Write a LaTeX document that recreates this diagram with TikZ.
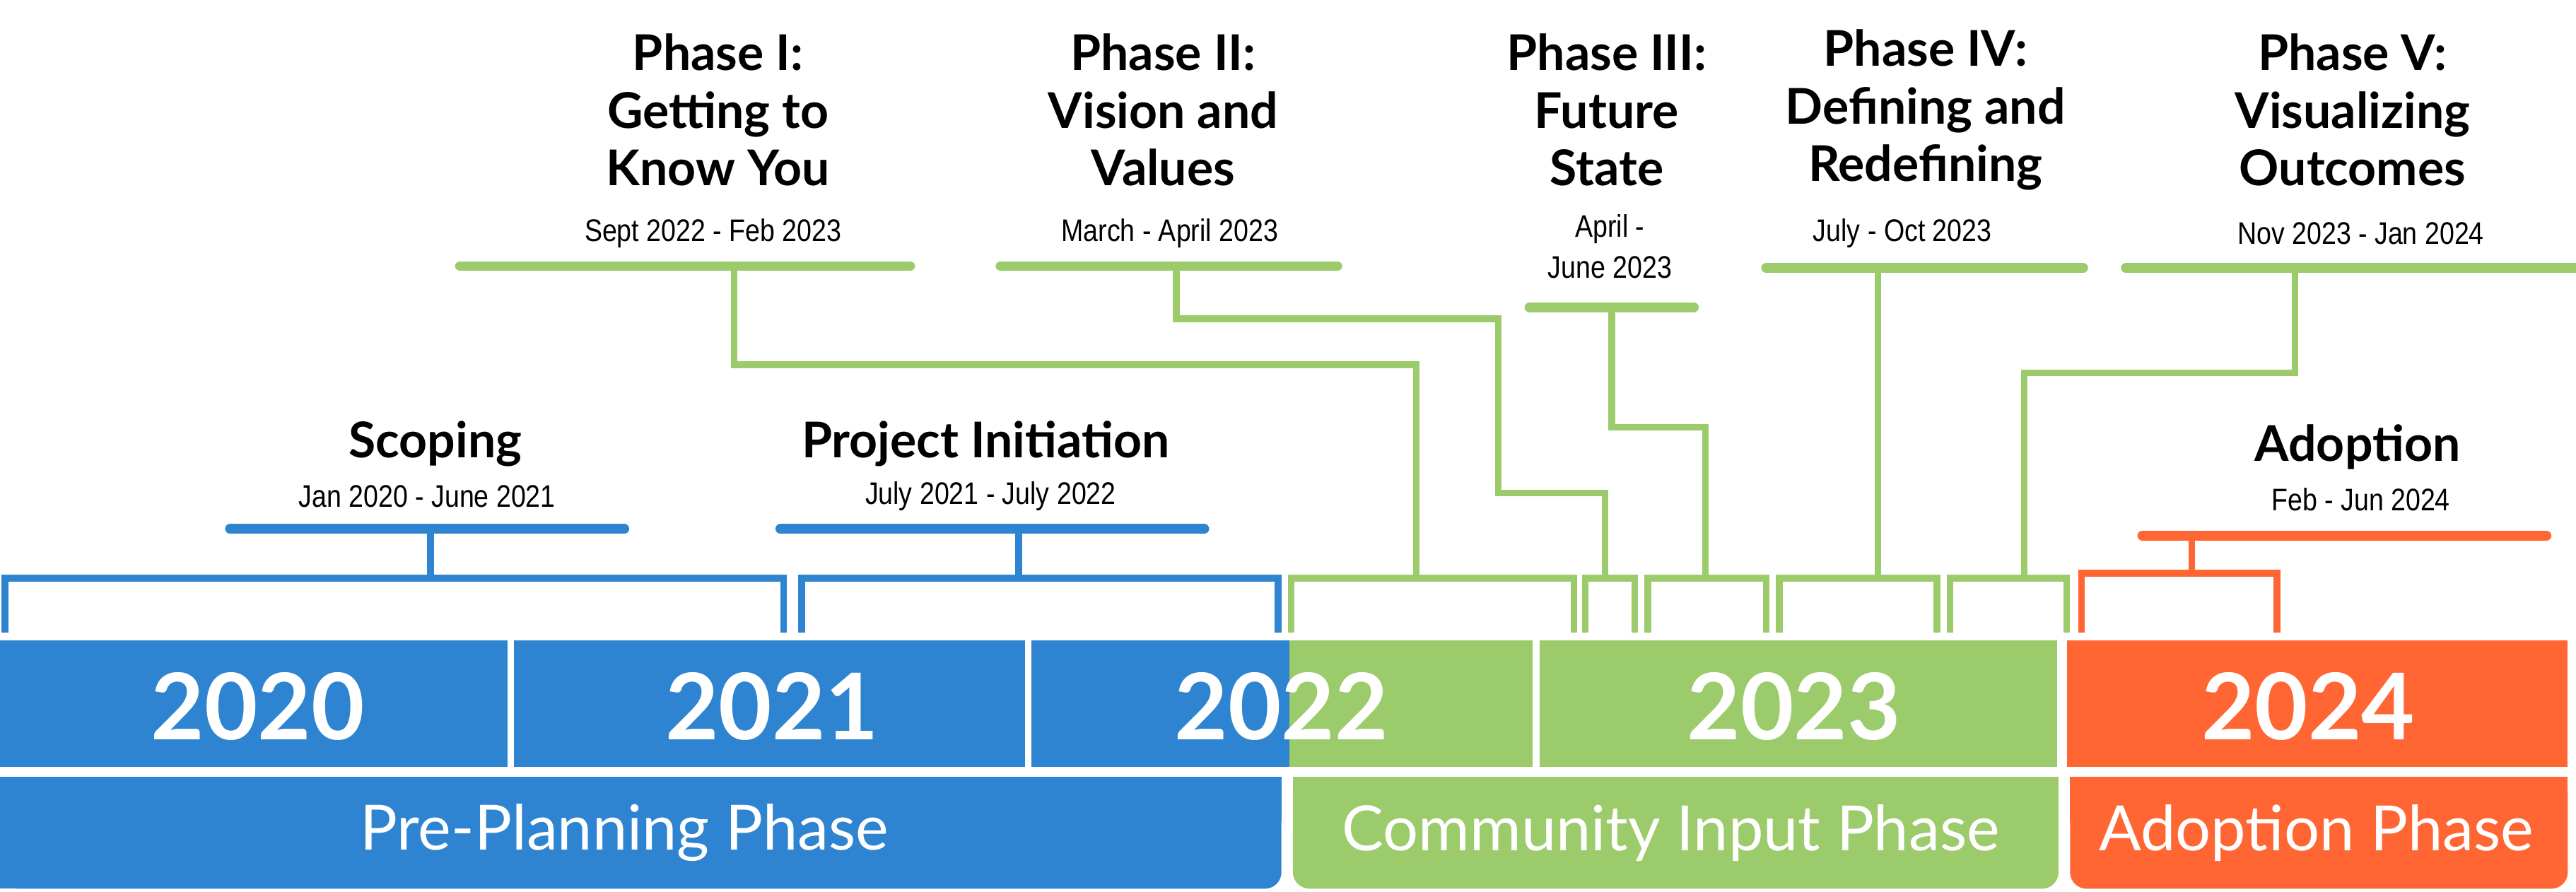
\documentclass[tikz,border=0pt]{standalone}
\usepackage{fontspec}
\setmainfont{Lato}
\newfontfamily\datefont{Liberation Sans}
\begin{document}
\begin{tikzpicture}[x=1pt,y=-1pt]
\definecolor{cb}{HTML}{2E84D0}
\definecolor{cg}{HTML}{9BCB6A}
\definecolor{co}{HTML}{FF6633}
\tikzset{
 bar/.style={line width=6pt,line cap=round},
 stem/.style={line width=4pt},
 brk/.style={line width=4pt},
 ttl/.style={font=\fontsize{30}{35}\selectfont\bfseries,align=center,text=black},
 dte/.style={font=\datefont\fontsize{19}{25}\selectfont,align=center,text=black,xscale=0.85},
 yr/.style={font=\fontsize{56}{60}\selectfont\bfseries,text=white},
 ph/.style={font=\fontsize{38}{44}\selectfont,text=white},
}
\useasboundingbox (0,0) rectangle (1568,543);
% year row
\fill[cb] (0,390) rectangle (785,467);
\fill[cg] (785,390) rectangle (1252,467);
\fill[co] (1258,390) rectangle (1563,467);
\draw[white,line width=4pt] (311,390)--(311,467) (626,390)--(626,467) (935,390)--(935,467);
\node[yr] (y20) at (157,430) {2020};
\node[yr] (y21) at (470,430) {2021};
\node[yr] (y22) at (780,430) {2022};
\node[yr] (y23) at (1092,430) {2023};
\node[yr] (y24) at (1405,430) {2024};
% phase row
\fill[cb,rounded corners=10pt] (0,473) -- (780,473) -- (780,541) -- (0,541) -- cycle;
\fill[cb] (0,473) rectangle (20,541);\fill[cb] (0,473) rectangle (780,500);
\fill[cg,rounded corners=10pt] (787,473) -- (1253,473) -- (1253,541) -- (787,541) -- cycle;
\fill[cg] (787,473) rectangle (1253,500);
\fill[co,rounded corners=10pt] (1260,473) -- (1563,473) -- (1563,541) -- (1260,541) -- cycle;
\fill[co] (1260,473) rectangle (1563,500);
\node[ph] (pp) at (380,507) {Pre-Planning Phase};
\node[ph] (ci) at (1017,507) {Community Input Phase};
\node[ph] (ap) at (1410,507) {Adoption Phase};
% brackets
\draw[cb,brk] (3,385)--(3,352)--(477,352)--(477,385);
\draw[cb,brk] (488,385)--(488,352)--(778,352)--(778,385);
\draw[cg,brk] (786,385)--(786,352)--(958,352)--(958,385);
\draw[cg,brk] (965,385)--(965,352)--(995,352)--(995,385);
\draw[cg,brk] (1003,385)--(1003,352)--(1075,352)--(1075,385);
\draw[cg,brk] (1083,385)--(1083,352)--(1179,352)--(1179,385);
\draw[cg,brk] (1187,385)--(1187,352)--(1258,352)--(1258,385);
\draw[co,brk] (1267,385)--(1267,349)--(1386,349)--(1386,385);
% stems and bars
\draw[cb,stem] (262,322)--(262,352);
\draw[cb,bar] (140,322)--(380,322);
\draw[cb,stem] (620,322)--(620,352);
\draw[cb,bar] (475,322)--(733,322);
\draw[cg,stem] (447,162)--(447,222)--(862,222)--(862,352);
\draw[cg,bar] (280,162)--(554,162);
\draw[cg,stem] (716,162)--(716,194)--(912,194)--(912,300)--(977,300)--(977,352);
\draw[cg,bar] (609,162)--(814,162);
\draw[cg,stem] (981,187)--(981,260)--(1038,260)--(1038,352);
\draw[cg,bar] (931,187)--(1031,187);
\draw[cg,stem] (1143,163)--(1143,352);
\draw[cg,bar] (1075,163)--(1268,163);
\draw[cg,stem] (1397,163)--(1397,227)--(1232,227)--(1232,352);
\draw[cg,bar] (1294,163)--(1568,163);
\draw[co,stem] (1334,326)--(1334,349);
\draw[co,bar] (1304,326)--(1550,326);
% titles
\node[ttl] (t1) at (437,67) {Phase I:\\Getting to\\Know You};
\node[dte] (d1) at (434,142) {Sept 2022 - Feb 2023};
\node[ttl] (t2) at (708,67) {Phase II:\\Vision and\\Values};
\node[dte] (d2) at (712,142) {March - April 2023};
\node[ttl] (t3) at (978,67) {Phase III:\\Future\\State};
\node[dte] (d3) at (980,150) {April -\\June 2023};
\node[ttl] (t4) at (1172,67) {Phase IV:\\Defining and\\Redefining};
\node[dte] (d4) at (1158,142) {July - Oct 2023};
\node[ttl] (t5) at (1432,67) {Phase V:\\Visualizing\\Outcomes};
\node[dte] (d5) at (1437,142) {Nov 2023 - Jan 2024};
\node[ttl] (t6) at (265,270) {Scoping};
\node[dte] (d6) at (260,302) {Jan 2020 - June 2021};
\node[ttl] (t7) at (600,270) {Project Initiation};
\node[dte] (d7) at (603,302) {July 2021 - July 2022};
\node[ttl] (t8) at (1435,272) {Adoption};
\node[dte] (d8) at (1437,304) {Feb - Jun 2024};
\end{tikzpicture}
\end{document}
